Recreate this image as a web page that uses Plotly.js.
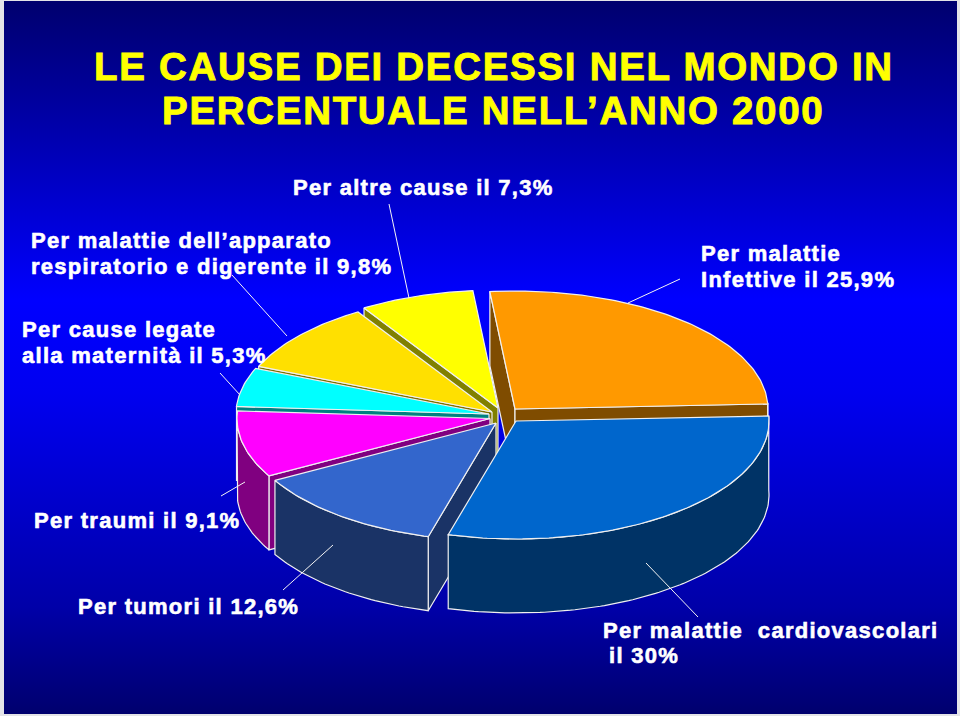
<!DOCTYPE html>
<html>
<head>
<meta charset="utf-8">
<script src="https://cdn.plot.ly/plotly-3.0.1.min.js"></script>
<style>
html,body{margin:0;padding:0;background:#e4e4e8;width:960px;height:716px;overflow:hidden}
#slide{position:absolute;left:4px;top:1px;width:953px;height:713px;background:linear-gradient(to bottom,#00006e 0%,#0000a8 17%,#0000ff 42%,#0000f0 55%,#0000a8 85%,#00006e 100%)}
#chart{position:absolute;left:0;top:0;width:960px;height:716px}
.annotation-text{letter-spacing:1.28px;stroke:#ffffff;stroke-width:.6px}
.gtitle,.annotation-text[style*="38.5"]{letter-spacing:1.7px;stroke:#FFFF00;stroke-width:.9px}
</style>
</head>
<body>
<div id="slide"></div>
<div id="chart"></div>
<script>
// ---- data ----
const categories = ['Infettive','Cardiovascolari','Tumori','Traumi','Maternità','Respiratorio','Altre'];
const values = [25.9, 30, 12.6, 9.1, 5.3, 9.8, 7.3];
const titleLines = ['LE CAUSE DEI DECESSI NEL MONDO IN','PERCENTUALE NELL’ANNO 2000'];
const labelTexts = [
  'Per altre cause il 7,3%',
  'Per malattie dell’apparato',
  'respiratorio e digerente il 9,8%',
  'Per malattie',
  'Infettive il 25,9%',
  'Per cause legate',
  'alla maternità il 5,3%',
  'Per traumi il 9,1%',
  'Per tumori il 12,6%',
  'Per malattie\u00A0\u00A0cardiovascolari',
  'il 30%'
];
// ---- styling and layout (not data) ----
const topColors  = ['#FF9900','#0066CC','#3366CC','#FF00FF','#00FFFF','#FFE000','#FFFF00'];
const sideColors = ['#7F4C00','#003366','#1A3366','#800080','#008080','#7F7000','#808000'];
const apexX = [515,516,496,490,489,492,498];
const apexY = [409,421,423,418.5,414,412,408];
const paintOrder = [0,6,5,4,3,2,1];
const startAngle = -5.7, rx = 253, ry = 118, depth = 74;
const edge = '#f0f0f0';
const labelPos = [[291,187],[29,240],[29,266],[699,253],[699,279],[20,329],[20,355],[32,520],[76,606],[601,630],[607,655]];
const leaderX = [[389,409],[232,287],[220,240],[221,245],[283,333],[646,698],[628,680]];
const leaderY = [[204,298],[275,336],[373,395],[496,482],[590,545],[563,617],[303,279]];

const rad = d => d*Math.PI/180;
function rim(i, phi, dz){ return [apexX[i]+rx*Math.sin(rad(phi)), apexY[i]-ry*Math.cos(rad(phi))+(dz||0)]; }
function poly(pts, color, name){
  return {type:'scatter', mode:'lines', x:pts.map(p=>p[0]), y:pts.map(p=>p[1]), fill:'toself',
    fillcolor:color, line:{color:edge,width:1.2}, hoverinfo:'skip', name:name, showlegend:false};
}
const spans = []; let a = startAngle;
values.forEach(v=>{ spans.push([a, a+v*3.6]); a += v*3.6; });

const traces = [];
paintOrder.forEach(i=>{
  const [s,e] = spans[i];
  const apex = [apexX[i],apexY[i]];
  const apexLow = [apexX[i],apexY[i]+depth];
  // visible radial walls
  if (Math.sin(rad(s)) < 0) traces.push(poly([apex,rim(i,s),rim(i,s,depth),apexLow,apex],sideColors[i],categories[i]));
  if (Math.sin(rad(e)) > 0) traces.push(poly([apex,rim(i,e),rim(i,e,depth),apexLow,apex],sideColors[i],categories[i]));
  // outer curved wall: the front half of the ellipse
  const s2 = Math.max(s,87), e2 = Math.min(e,270);
  if (e2 > s2){
    const up=[],lo=[];
    for(let p=s2;p<e2;p+=1){up.push(rim(i,p));lo.push(rim(i,p,depth));}
    up.push(rim(i,e2));lo.push(rim(i,e2,depth));
    traces.push(poly(up.concat(lo.reverse()).concat([up[0]]),sideColors[i],categories[i]));
  }
  // top face
  const top=[apex];
  for(let p=s;p<e;p+=1) top.push(rim(i,p));
  top.push(rim(i,e)); top.push(apex);
  traces.push(poly(top,topColors[i],categories[i]));
});

const annotations = labelTexts.map((t,i)=>({
  text:'<b>'+t+'</b>', x:labelPos[i][0], y:labelPos[i][1], xref:'x', yref:'y', xanchor:'left', yanchor:'middle',
  showarrow:false, align:'left', font:{family:'Liberation Sans, Arial, sans-serif',size:22,color:'#ffffff'}
}));
annotations.push({text:'<b>'+titleLines[1]+'</b>', x:160, y:110, xref:'x', yref:'y', xanchor:'left', yanchor:'middle',
  showarrow:false, font:{family:'Liberation Sans, Arial, sans-serif',size:38.5,color:'#FFFF00'}});

const shapes = leaderX.map((lx,i)=>({type:'line',xref:'x',yref:'y',x0:lx[0],x1:lx[1],y0:leaderY[i][0],y1:leaderY[i][1],
  line:{color:'#f4f4f4',width:1}, layer:'above'}));

Plotly.newPlot('chart', traces, {
  width:960, height:716, margin:{l:0,r:0,t:0,b:0},
  paper_bgcolor:'rgba(0,0,0,0)', plot_bgcolor:'rgba(0,0,0,0)', showlegend:false,
  xaxis:{range:[0,960],visible:false,fixedrange:true},
  yaxis:{range:[716,0],visible:false,fixedrange:true},
  title:{text:'<b>'+titleLines[0]+'</b>', x:94/960, xanchor:'left', xref:'paper', y:1-66.5/716, yanchor:'middle', yref:'paper',
    font:{family:'Liberation Sans, Arial, sans-serif',size:38.5,color:'#FFFF00'}},
  annotations, shapes
},{displayModeBar:false,staticPlot:true});
</script>
</body>
</html>
